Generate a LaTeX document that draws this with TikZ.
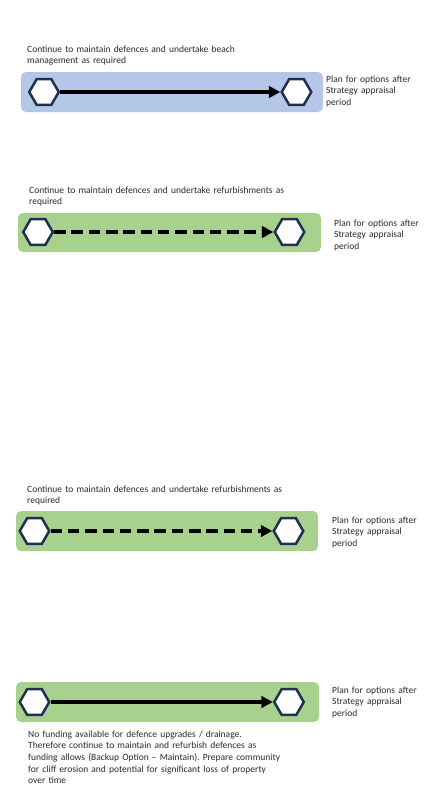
\documentclass[tikz,border=0pt]{standalone}
\usepackage{fontspec}
\setmainfont{Carlito}
\frenchspacing
\usetikzlibrary{shapes.geometric,arrows.meta}
\definecolor{bandblue}{HTML}{B4C7E7}
\definecolor{bandgreen}{HTML}{A9D18E}
\definecolor{hexnavy}{HTML}{1F3050}
\definecolor{txt}{HTML}{2B2B2B}
\begin{document}
\begin{tikzpicture}[x=1pt,y=-1pt,
  hexnode/.style={regular polygon,regular polygon sides=6,minimum size=29.5pt,inner sep=0pt,
    draw=hexnavy,line width=2.5pt,fill=white},
  band/.style={rounded corners=5pt},
  flow/.style={line width=3.8pt,-{Triangle[length=11.5pt,width=11.5pt]}},
  flowdash/.style={flow,dash pattern=on 11.5pt off 5.8pt},
  lbl/.style={font=\fontsize{9.5}{11.7}\selectfont,text=txt,align=left,inner sep=0pt,anchor=base west,text width=300pt},
  sidelbl/.style={lbl,text width=95pt}]
\useasboundingbox (0,0) rectangle (429,795);
\fill[white] (0,0) rectangle (429,795);

% Row 1
\fill[bandblue,band] (21,72) rectangle (323,112);
\node[hexnode] (a1) at (44,92) {};
\node[hexnode] (b1) at (296.5,92) {};
\draw[flow] (a1.east) -- (b1.west);
\node[lbl] (t1) at (27,52) {Continue to maintain defences and undertake beach\\management as required};
\node[sidelbl] (s1) at (326,82) {Plan for options after\\Strategy appraisal\\period};

% Row 2
\fill[bandgreen,band] (18,213) rectangle (321,252);
\node[hexnode] (a2) at (38,232) {};
\node[hexnode] (b2) at (289.5,232) {};
\draw[flowdash] (a2.east) -- (b2.west);
\node[lbl] (t2) at (29,193) {Continue to maintain defences and undertake refurbishments as\\required};
\node[sidelbl] (s2) at (334,226) {Plan for options after\\Strategy appraisal\\period};

% Row 3
\fill[bandgreen,band] (16,511) rectangle (318,551);
\node[hexnode] (a3) at (34.5,531) {};
\node[hexnode] (b3) at (288.5,531) {};
\draw[flowdash] (a3.east) -- (b3.west);
\node[lbl] (t3) at (27,492) {Continue to maintain defences and undertake refurbishments as\\required};
\node[sidelbl] (s3) at (332,523) {Plan for options after\\Strategy appraisal\\period};

% Row 4
\fill[bandgreen,band] (16,682) rectangle (319,722);
\node[hexnode] (a4) at (34.5,702) {};
\node[hexnode] (b4) at (289,702) {};
\draw[flow] (a4.east) -- (b4.west);
\node[sidelbl] (s4) at (332,693) {Plan for options after\\Strategy appraisal\\period};
\node[lbl] (t4) at (28,737) {No funding available for defence upgrades / drainage.\\Therefore continue to maintain and refurbish defences as\\funding allows (Backup Option -- Maintain). Prepare community\\for cliff erosion and potential for significant loss of property\\over time};
\end{tikzpicture}
\end{document}
